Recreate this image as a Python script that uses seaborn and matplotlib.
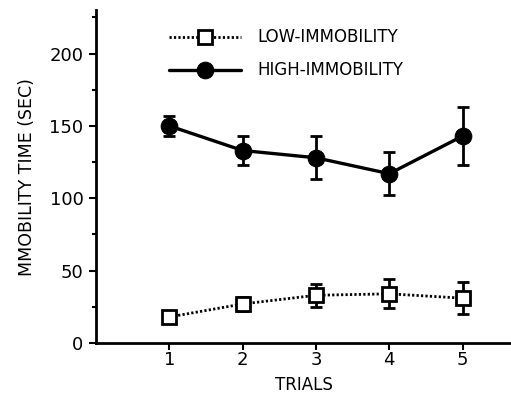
import pandas as pd
import seaborn as sns
import matplotlib.pyplot as plt
from matplotlib.ticker import MultipleLocator

# Data
trials = [1, 2, 3, 4, 5]
high_mean = [150, 133, 128, 117, 143]
high_err = [7, 10, 15, 15, 20]
low_mean = [18, 27, 33, 34, 31]
low_err = [0, 5, 8, 10, 11]

df = pd.DataFrame({
    "trial": trials * 2,
    "time": low_mean + high_mean,
    "group": ["LOW-IMMOBILITY"] * 5 + ["HIGH-IMMOBILITY"] * 5,
})

sns.set_style("ticks")
plt.rcParams["font.family"] = ["DejaVu Sans"]
plt.rcParams["text.color"] = "black"
plt.rcParams["axes.labelcolor"] = "black"
plt.rcParams["xtick.color"] = "black"
plt.rcParams["ytick.color"] = "black"
plt.rcParams["axes.edgecolor"] = "black"

fig = plt.figure(figsize=(5.11, 4.05), dpi=100)
ax = fig.add_axes([0.188, 0.153, 0.812, 0.822])

# error bars first so markers sit on top
ax.errorbar(trials, high_mean, yerr=high_err, fmt="none", ecolor="black",
            elinewidth=2, capsize=4, capthick=2, zorder=2)
ax.errorbar(trials, low_mean, yerr=low_err, fmt="none", ecolor="black",
            elinewidth=2, capsize=4, capthick=2, zorder=2)

low = df[df["group"] == "LOW-IMMOBILITY"]
high = df[df["group"] == "HIGH-IMMOBILITY"]
sns.lineplot(data=low, x="trial", y="time", ax=ax, color="black",
             linestyle=(0, (0.8, 0.8)), linewidth=2, marker="s", markersize=10,
             markerfacecolor="white", markeredgecolor="black",
             markeredgewidth=2, label="LOW-IMMOBILITY", zorder=3)
sns.lineplot(data=high, x="trial", y="time", ax=ax, color="black",
             linewidth=2.4, marker="o", markersize=12,
             markerfacecolor="black", markeredgecolor="black",
             label="HIGH-IMMOBILITY", zorder=3)

ax.set_xlim(0, 5.66)
ax.set_ylim(0, 230)
ax.set_xticks(trials)
ax.set_yticks([0, 50, 100, 150, 200])
ax.yaxis.set_minor_locator(MultipleLocator(25))
ax.tick_params(axis="both", which="major", direction="out", length=5,
               width=1.5, labelsize=13)
ax.tick_params(axis="x", pad=1)
ax.tick_params(axis="y", pad=4)
ax.tick_params(axis="y", which="minor", direction="out", length=3, width=1.5)
for s in ["top", "right"]:
    ax.spines[s].set_visible(False)
for s in ["left", "bottom"]:
    ax.spines[s].set_linewidth(2)

ax.set_xlabel("TRIALS", fontsize=12, labelpad=5)
ax.set_ylabel("MMOBILITY TIME (SEC)", fontsize=12.5, labelpad=10)

ax.legend(loc="upper left", bbox_to_anchor=(0.14, 0.99), frameon=False,
          fontsize=12, handlelength=4.3, handletextpad=1.0,
          labelspacing=0.9)

fig.savefig("out.png", dpi=100)
